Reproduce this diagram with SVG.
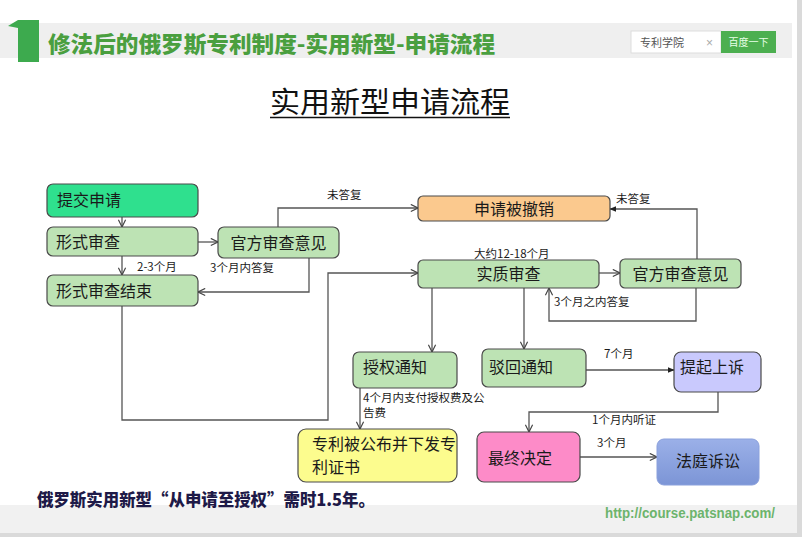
<svg xmlns="http://www.w3.org/2000/svg" width="802" height="537" viewBox="0 0 802 537">
<defs>
<style>
.cjk{font-family:"Noto Sans CJK SC","Liberation Sans",sans-serif;}
.node{stroke:#4a4a4a;stroke-width:1.2;}
.green{fill:#bde3b4;}
.nt{font-family:"Noto Sans CJK SC",sans-serif;font-size:16px;fill:#1a1a1a;}
.lbl{font-family:"Noto Sans CJK SC","Liberation Sans",sans-serif;font-size:11.5px;fill:#1a1a1a;}
.conn{fill:none;stroke:#555;stroke-width:1.3;}
</style>
<marker id="open" viewBox="0 0 10 10" refX="9" refY="5" markerWidth="9" markerHeight="9" orient="auto" markerUnits="userSpaceOnUse">
<path d="M1,1 L9,5 L1,9" fill="none" stroke="#444" stroke-width="1.3"/>
</marker>
<marker id="solid" viewBox="0 0 10 10" refX="9" refY="5" markerWidth="7" markerHeight="7" orient="auto" markerUnits="userSpaceOnUse">
<path d="M0,1 L10,5 L0,9 Z" fill="#222"/>
</marker>
<linearGradient id="blueg" x1="0" y1="0" x2="0" y2="1">
<stop offset="0" stop-color="#9bb0e8"/>
<stop offset="1" stop-color="#7c95d6"/>
</linearGradient>
</defs>

<rect width="802" height="537" fill="#ffffff"/>

<g id="header">
<rect x="0" y="23" width="792" height="35" fill="#efefef"/>
<polygon points="8,26 18,20 39,20 39,62 18,62 18,28" fill="#3daa4e"/>
<text x="48" y="52" class="cjk" font-size="22" font-weight="900" fill="#4a9f3f" textLength="447" lengthAdjust="spacingAndGlyphs">修法后的俄罗斯专利制度-实用新型-申请流程</text>
<rect x="631" y="31" width="90" height="22" fill="#ffffff" stroke="#dddddd" stroke-width="1"/>
<text x="640" y="46.5" class="cjk" font-size="11" fill="#555">专利学院</text>
<text x="706" y="46.5" font-family="Liberation Sans, sans-serif" font-size="12" fill="#aaa">×</text>
<rect x="721" y="31" width="55" height="22" fill="#4caf50"/>
<text x="748.5" y="46" class="cjk" font-size="10" fill="#e8ffe8" text-anchor="middle">百度一下</text>
</g>

<g id="title">
<text x="270" y="113" class="cjk" font-size="29" fill="#111" textLength="240" lengthAdjust="spacingAndGlyphs">实用新型申请流程</text>
<line x1="270" y1="117.5" x2="510" y2="117.5" stroke="#111" stroke-width="1.5"/>
</g>

<g id="connectors">
<path class="conn" d="M122,217 V227" marker-end="url(#open)"/>
<path class="conn" d="M198,242 H218" marker-end="url(#open)"/>
<path class="conn" d="M122,256 V275" marker-end="url(#open)"/>
<path class="conn" d="M309,258 V292 H198" marker-end="url(#open)"/>
<path class="conn" d="M278,227 V208 H418" marker-end="url(#open)"/>
<path class="conn" d="M122,306 V420 H328 V273 H418" marker-end="url(#open)"/>
<path class="conn" d="M599,273 H620" marker-end="url(#open)"/>
<path class="conn" d="M697,259 V209 H610" marker-end="url(#solid)"/>
<path class="conn" d="M696,288 V321 H549 V288" marker-end="url(#open)"/>
<path class="conn" d="M432,288 V352" marker-end="url(#open)"/>
<path class="conn" d="M524,288 V349" marker-end="url(#open)"/>
<path class="conn" d="M360,388 V429" marker-end="url(#open)"/>
<path class="conn" d="M586,370 H674" marker-end="url(#solid)"/>
<path class="conn" d="M718,392 V412 H529 V432" marker-end="url(#open)"/>
<path class="conn" d="M580,457 H657" marker-end="url(#open)"/>
</g>

<g id="labels">
<text x="327" y="199" class="lbl">未答复</text>
<text x="137" y="271" class="lbl">2-3个月</text>
<text x="210" y="272" class="lbl">3个月内答复</text>
<text x="616" y="203" class="lbl">未答复</text>
<text x="474" y="258" class="lbl">大约12-18个月</text>
<text x="554" y="306" class="lbl">3个月之内答复</text>
<text class="lbl" font-size="10.5"><tspan x="363" y="402">4个月内支付授权费及公</tspan><tspan x="363" y="417">告费</tspan></text>
<text x="604" y="358" class="lbl">7个月</text>
<text x="592" y="424" class="lbl">1个月内听证</text>
<text x="597" y="447" class="lbl">3个月</text>
</g>

<g id="n-submit">
<rect x="47" y="184" width="151" height="33" rx="6" class="node" fill="#2fe08e"/>
<text x="57" y="206" class="nt" font-size="15">提交申请</text>
</g>
<g id="n-formal">
<rect x="47" y="227" width="151" height="29" rx="6" class="node green"/>
<text x="56" y="248" class="nt" font-size="17">形式审查</text>
</g>
<g id="n-opinion1">
<rect x="218" y="227" width="121" height="31" rx="6" class="node green"/>
<text x="278.5" y="249" class="nt" font-size="17" text-anchor="middle">官方审查意见</text>
</g>
<g id="n-formal-end">
<rect x="47" y="275" width="151" height="31" rx="6" class="node green"/>
<text x="56" y="297" class="nt" font-size="17">形式审查结束</text>
</g>
<g id="n-revoked">
<rect x="418" y="196" width="192" height="25" rx="5" class="node" fill="#fbc98e"/>
<text x="514" y="214.5" class="nt" font-size="16" fill="#4a1c1c" text-anchor="middle">申请被撤销</text>
</g>
<g id="n-substantive">
<rect x="418" y="260" width="181" height="28" rx="5" class="node green"/>
<text x="508.5" y="280" class="nt" font-size="17" text-anchor="middle">实质审查</text>
</g>
<g id="n-opinion2">
<rect x="620" y="259" width="121" height="29" rx="5" class="node green"/>
<text x="680.5" y="280" class="nt" font-size="17" text-anchor="middle">官方审查意见</text>
</g>
<g id="n-grant">
<rect x="353" y="352" width="104" height="36" rx="6" class="node green"/>
<text x="363" y="373" class="nt" font-size="17">授权通知</text>
</g>
<g id="n-reject">
<rect x="482" y="349" width="104" height="38" rx="6" class="node green"/>
<text x="489" y="373" class="nt" font-size="17">驳回通知</text>
</g>
<g id="n-publish">
<rect x="298" y="429" width="159" height="53" rx="8" class="node" fill="#fcfc8e"/>
<text class="nt" font-size="15.5"><tspan x="312" y="450">专利被公布并下发专</tspan><tspan x="312" y="472.5">利证书</tspan></text>
</g>
<g id="n-appeal">
<rect x="674" y="352" width="87" height="40" rx="7" class="node" fill="#c9c9fd"/>
<text x="680" y="373" class="nt" font-size="16" fill="#1c1c52">提起上诉</text>
</g>
<g id="n-final">
<rect x="477" y="432" width="103" height="50" rx="7" class="node" fill="#fd8bc8"/>
<text x="488" y="464" class="nt" font-size="17" fill="#3a0a28">最终决定</text>
</g>
<g id="n-court">
<rect x="657" y="439" width="102" height="46" rx="7" fill="url(#blueg)" stroke="#8aa0dc" stroke-width="1"/>
<text x="708" y="467" class="nt" font-size="17" text-anchor="middle">法庭诉讼</text>
</g>

<g id="footer">
<rect x="0" y="505" width="797" height="28" fill="#f1f1f1"/>
<text x="37" y="506" class="cjk" font-size="17" font-weight="900" fill="#1e1a48" textLength="338" lengthAdjust="spacingAndGlyphs">俄罗斯实用新型“从申请至授权”需时1.5年。</text>
<text x="605" y="518" font-family="Liberation Sans, sans-serif" font-size="14" font-weight="bold" fill="#6cb46c" textLength="170" lengthAdjust="spacingAndGlyphs">http://course.patsnap.com/</text>
<rect x="797" y="0" width="5" height="537" fill="#dadada"/>
<rect x="0" y="533" width="802" height="4" fill="#dadada"/>
</g>
</svg>
